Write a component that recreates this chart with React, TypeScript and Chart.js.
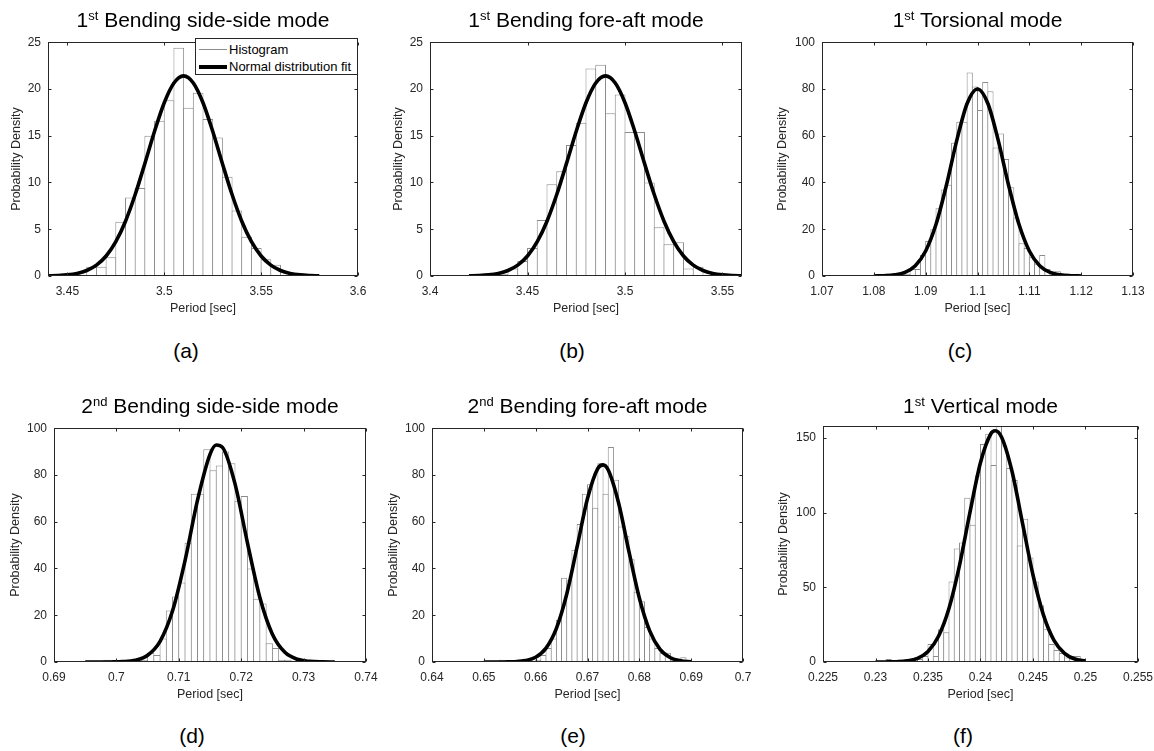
import React, { useEffect, useRef } from 'react';
import { Chart, registerables } from 'chart.js';

Chart.register(...registerables);

// ---------------- Data ----------------
const xAxisTitle = 'Period [sec]';
const yAxisTitle = 'Probability Density';
const legendLabels = ['Histogram', 'Normal distribution fit'];

const panelTitles: [string, string, string][] = [
  ['1', 'st', 'Bending side-side mode'],
  ['1', 'st', 'Bending fore-aft mode'],
  ['1', 'st', 'Torsional mode'],
  ['2', 'nd', 'Bending side-side mode'],
  ['2', 'nd', 'Bending fore-aft mode'],
  ['1', 'st', 'Vertical mode'],
];
const panelLabels = ['(a)', '(b)', '(c)', '(d)', '(e)', '(f)'];

// (a) 1st bending side-side
const histCentersA = [3.4625, 3.4675, 3.4725, 3.4775, 3.4825, 3.4875, 3.4925, 3.4975, 3.5025, 3.5075, 3.5125, 3.5175, 3.5225, 3.5275, 3.5325, 3.5375, 3.5425, 3.5475, 3.5525, 3.5575];
const histDensityA = [1.0, 1.0, 2.0, 5.8, 8.4, 9.4, 15.0, 16.6, 18.8, 24.4, 18.0, 19.6, 16.8, 14.8, 10.6, 7.0, 4.2, 3.0, 1.8, 1.2];
const fitPeriodA = [3.44, 3.445, 3.45, 3.455, 3.46, 3.465, 3.47, 3.475, 3.48, 3.485, 3.49, 3.495, 3.5, 3.505, 3.51, 3.515, 3.52, 3.525, 3.53, 3.535, 3.54, 3.545, 3.55, 3.555, 3.56, 3.565, 3.57, 3.575, 3.58];
const fitDensityA = [0.02, 0.05, 0.12, 0.28, 0.59, 1.16, 2.14, 3.67, 5.86, 8.71, 12.04, 15.48, 18.53, 20.64, 21.4, 20.64, 18.53, 15.48, 12.04, 8.71, 5.86, 3.67, 2.14, 1.16, 0.59, 0.28, 0.12, 0.05, 0.02];
const xTicksA = [3.45, 3.5, 3.55, 3.6];
const yTicksA = [0, 5, 10, 15, 20, 25];
const xLimA = [3.44, 3.6];
const yLimA = [0, 25];

// (b) 1st bending fore-aft
const histCentersB = [3.4375, 3.4425, 3.4475, 3.4525, 3.4575, 3.4625, 3.4675, 3.4725, 3.4775, 3.4825, 3.4875, 3.4925, 3.4975, 3.5025, 3.5075, 3.5125, 3.5175, 3.5225, 3.5275, 3.5325, 3.5375];
const histDensityB = [0.2, 0.8, 1.6, 3.0, 6.0, 9.8, 11.2, 14.0, 16.4, 22.2, 22.6, 17.4, 19.4, 15.4, 15.4, 10.0, 5.2, 3.4, 3.6, 0.8, 1.0];
const fitPeriodB = [3.42, 3.425, 3.43, 3.435, 3.44, 3.445, 3.45, 3.455, 3.46, 3.465, 3.47, 3.475, 3.48, 3.485, 3.49, 3.495, 3.5, 3.505, 3.51, 3.515, 3.52, 3.525, 3.53, 3.535, 3.54, 3.545, 3.55, 3.555, 3.56];
const fitDensityB = [0.02, 0.05, 0.12, 0.28, 0.59, 1.16, 2.14, 3.67, 5.86, 8.71, 12.04, 15.48, 18.53, 20.64, 21.4, 20.64, 18.53, 15.48, 12.04, 8.71, 5.86, 3.67, 2.14, 1.16, 0.59, 0.28, 0.12, 0.05, 0.02];
const xTicksB = [3.4, 3.45, 3.5, 3.55];
const yTicksB = [0, 5, 10, 15, 20, 25];
const xLimB = [3.4, 3.56];
const yLimB = [0, 25];

// (c) 1st torsional
const histCentersC = [1.0815, 1.0825, 1.0835, 1.0845, 1.0855, 1.0865, 1.0875, 1.0885, 1.0895, 1.0905, 1.0915, 1.0925, 1.0935, 1.0945, 1.0955, 1.0965, 1.0975, 1.0985, 1.0995, 1.1005, 1.1015, 1.1025, 1.1035, 1.1045, 1.1055, 1.1065, 1.1075, 1.1085, 1.1095, 1.1105, 1.1115, 1.1125, 1.1135, 1.1145, 1.1155, 1.1165, 1.1175, 1.1185, 1.1195];
const histDensityC = [1, 0, 0, 0, 1, 1, 3, 3, 9, 15, 20, 29, 37, 39, 57, 66, 66, 87, 81, 71, 83, 79, 55, 61, 50, 38, 25, 14, 12, 8, 5, 9, 3, 2, 2, 1, 0, 0, 1];
const fitPeriodC = [1.08, 1.082, 1.084, 1.086, 1.088, 1.09, 1.092, 1.094, 1.096, 1.098, 1.1, 1.102, 1.104, 1.106, 1.108, 1.11, 1.112, 1.114, 1.116, 1.118, 1.12];
const fitDensityC = [0.03, 0.12, 0.47, 1.56, 4.42, 10.7, 22.1, 38.8, 58.0, 73.8, 80.0, 73.8, 58.0, 38.8, 22.1, 10.7, 4.42, 1.56, 0.47, 0.12, 0.03];
const xTicksC = [1.07, 1.08, 1.09, 1.1, 1.11, 1.12, 1.13];
const yTicksC = [0, 20, 40, 60, 80, 100];
const xLimC = [1.07, 1.13];
const yLimC = [0, 100];

// (d) 2nd bending side-side
const histCentersD = [0.6985, 0.6995, 0.7005, 0.7015, 0.7025, 0.7035, 0.7045, 0.7055, 0.7065, 0.7075, 0.7085, 0.7095, 0.7105, 0.7115, 0.7125, 0.7135, 0.7145, 0.7155, 0.7165, 0.7175, 0.7185, 0.7195, 0.7205, 0.7215, 0.7225, 0.7235, 0.7245, 0.7255, 0.7265, 0.7275];
const histDensityD = [1, 0, 0, 0, 0, 0, 1, 4, 3, 10, 22, 28, 34, 51, 72, 72, 91, 82, 84, 90, 85, 69, 71, 40, 27, 25, 8, 6, 1, 1];
const fitPeriodD = [0.695, 0.697, 0.699, 0.701, 0.703, 0.705, 0.707, 0.709, 0.711, 0.713, 0.715, 0.716, 0.717, 0.719, 0.721, 0.723, 0.725, 0.727, 0.729, 0.731, 0.733, 0.735];
const fitDensityD = [0.0, 0.0, 0.03, 0.16, 0.76, 2.9, 8.87, 21.9, 43.4, 69.2, 88.8, 92.8, 91.8, 76.3, 51.0, 27.5, 11.9, 4.15, 1.16, 0.26, 0.05, 0.01];
const xTicksD = [0.69, 0.7, 0.71, 0.72, 0.73, 0.74];
const yTicksD = [0, 20, 40, 60, 80, 100];
const xLimD = [0.69, 0.74];
const yLimD = [0, 100];

// (e) 2nd bending fore-aft
const histCentersE = [0.6535, 0.6545, 0.6555, 0.6565, 0.6575, 0.6585, 0.6595, 0.6605, 0.6615, 0.6625, 0.6635, 0.6645, 0.6655, 0.6665, 0.6675, 0.6685, 0.6695, 0.6705, 0.6715, 0.6725, 0.6735, 0.6745, 0.6755, 0.6765, 0.6775, 0.6785, 0.6795, 0.6805, 0.6815, 0.6825, 0.6835, 0.6845, 0.6855, 0.6865, 0.6875, 0.6885];
const histDensityE = [1, 0, 0, 0, 0, 0, 0, 1, 3, 6, 10, 18, 36, 35, 48, 59, 72, 76, 66, 85, 72, 92, 78, 58, 54, 44, 30, 26, 15, 10, 6, 4, 4, 1, 0, 2];
const fitPeriodE = [0.65, 0.652, 0.654, 0.656, 0.658, 0.66, 0.662, 0.664, 0.666, 0.668, 0.67, 0.672, 0.673, 0.674, 0.676, 0.678, 0.68, 0.682, 0.684, 0.686, 0.688, 0.69];
const fitDensityE = [0.0, 0.0, 0.03, 0.14, 0.59, 2.05, 5.94, 14.4, 29.1, 49.3, 69.9, 82.8, 84.3, 82.1, 68.0, 47.2, 27.4, 13.3, 5.39, 1.83, 0.52, 0.12];
const xTicksE = [0.64, 0.65, 0.66, 0.67, 0.68, 0.69, 0.7];
const yTicksE = [0, 20, 40, 60, 80, 100];
const xLimE = [0.64, 0.7];
const yLimE = [0, 100];

// (f) 1st vertical
const histCentersF = [0.23025, 0.23075, 0.23125, 0.23175, 0.23225, 0.23275, 0.23325, 0.23375, 0.23425, 0.23475, 0.23525, 0.23575, 0.23625, 0.23675, 0.23725, 0.23775, 0.23825, 0.23875, 0.23925, 0.23975, 0.24025, 0.24075, 0.24125, 0.24175, 0.24225, 0.24275, 0.24325, 0.24375, 0.24425, 0.24475, 0.24525, 0.24575, 0.24625, 0.24675, 0.24725, 0.24775, 0.24825, 0.24875, 0.24925, 0.24975];
const histDensityF = [0, 0, 2, 0, 0, 0, 1, 1, 2, 4, 12, 4, 22, 20, 54, 76, 80, 110, 92, 125, 146, 153, 132, 158, 145, 130, 122, 78, 96, 70, 54, 38, 22, 12, 8, 6, 3, 4, 4, 1];
const fitPeriodF = [0.23, 0.231, 0.232, 0.233, 0.234, 0.235, 0.236, 0.237, 0.238, 0.239, 0.24, 0.241, 0.2414, 0.242, 0.243, 0.244, 0.245, 0.246, 0.247, 0.248, 0.249, 0.25];
const fitDensityF = [0.01, 0.04, 0.2, 0.75, 2.49, 7.05, 17.2, 36.0, 64.8, 100.4, 133.7, 153.1, 155.0, 150.8, 127.8, 93.1, 58.3, 31.4, 14.5, 5.8, 1.98, 0.58];
const xTicksF = [0.225, 0.23, 0.235, 0.24, 0.245, 0.25, 0.255];
const yTicksF = [0, 50, 100, 150];
const xLimF = [0.225, 0.255];
const yLimF = [0, 158];

// ---------------- Layout / style ----------------
const FONT = "'Liberation Sans', Arial, Helvetica, sans-serif";
const AXIS_COLOR = '#262626';
const BAR_EDGE = '#8c8c8c';
const TICK_FONT = 12;
const AXIS_TITLE_FONT = 12.5;
const TITLE_FONT = 21;
const PT = 10;
const PR = 24;
const XH = 44;

type Box = { left: number; top: number; right: number; bottom: number };
type PanelSpec = {
  centers: number[];
  density: number[];
  fitX: number[];
  fitY: number[];
  xLim: number[];
  yLim: number[];
  xTicks: number[];
  yTicks: number[];
  box: Box;
  yTitleOffset: number;
  titleBaseline: number;
  labelX: number;
  labelY: number;
};

const panels: PanelSpec[] = [
  { centers: histCentersA, density: histDensityA, fitX: fitPeriodA, fitY: fitDensityA, xLim: xLimA, yLim: yLimA, xTicks: xTicksA, yTicks: yTicksA,
    box: { left: 48, top: 38, right: 358, bottom: 276 }, yTitleOffset: 31, titleBaseline: 26.5, labelX: 186, labelY: 351 },
  { centers: histCentersB, density: histDensityB, fitX: fitPeriodB, fitY: fitDensityB, xLim: xLimB, yLim: yLimB, xTicks: xTicksB, yTicks: yTicksB,
    box: { left: 430, top: 38, right: 742, bottom: 276 }, yTitleOffset: 31, titleBaseline: 26.5, labelX: 572, labelY: 351 },
  { centers: histCentersC, density: histDensityC, fitX: fitPeriodC, fitY: fitDensityC, xLim: xLimC, yLim: yLimC, xTicks: xTicksC, yTicks: yTicksC,
    box: { left: 822, top: 38, right: 1133, bottom: 276 }, yTitleOffset: 39, titleBaseline: 26.5, labelX: 960, labelY: 351 },
  { centers: histCentersD, density: histDensityD, fitX: fitPeriodD, fitY: fitDensityD, xLim: xLimD, yLim: yLimD, xTicks: xTicksD, yTicks: yTicksD,
    box: { left: 54, top: 424, right: 366, bottom: 662 }, yTitleOffset: 38, titleBaseline: 413, labelX: 192, labelY: 736 },
  { centers: histCentersE, density: histDensityE, fitX: fitPeriodE, fitY: fitDensityE, xLim: xLimE, yLim: yLimE, xTicks: xTicksE, yTicks: yTicksE,
    box: { left: 432, top: 424, right: 743, bottom: 662 }, yTitleOffset: 38, titleBaseline: 413, labelX: 573, labelY: 736 },
  { centers: histCentersF, density: histDensityF, fitX: fitPeriodF, fitY: fitDensityF, xLim: xLimF, yLim: yLimF, xTicks: xTicksF, yTicks: yTicksF,
    box: { left: 823, top: 422, right: 1138, bottom: 662 }, yTitleOffset: 39, titleBaseline: 413, labelX: 963, labelY: 736 },
];

const fmt = (v: number) => String(Math.round(v * 1e6) / 1e6);

const boxPlugin = {
  id: 'matlabBox',
  afterDraw(chart: any) {
    const { ctx, chartArea } = chart;
    const xs = chart.scales.x;
    const ys = chart.scales.y;
    const L = Math.round(chartArea.left) + 0.5;
    const R = Math.round(chartArea.right) - 0.5;
    const T = Math.round(chartArea.top) + 0.5;
    const B = Math.round(chartArea.bottom) - 0.5;
    const tl = 3;
    ctx.save();
    ctx.strokeStyle = AXIS_COLOR;
    ctx.lineWidth = 1;
    ctx.strokeRect(L, T, R - L, B - T);
    ctx.beginPath();
    xs.ticks.forEach((t: any) => {
      const px = Math.round(xs.getPixelForValue(t.value)) + 0.5;
      ctx.moveTo(px, B);
      ctx.lineTo(px, B - tl);
      ctx.moveTo(px, T);
      ctx.lineTo(px, T + tl);
    });
    ys.ticks.forEach((t: any) => {
      const py = Math.round(ys.getPixelForValue(t.value)) + 0.5;
      ctx.moveTo(L, py);
      ctx.lineTo(L + tl, py);
      ctx.moveTo(R, py);
      ctx.lineTo(R - tl, py);
    });
    ctx.stroke();
    ctx.restore();
  },
};

function HistPanel({ spec }: { spec: PanelSpec }) {
  const ref = useRef<HTMLCanvasElement>(null);
  const yw = Math.round(spec.yTitleOffset + (AXIS_TITLE_FONT * 1.2) / 2 + 4);
  const plotW = spec.box.right - spec.box.left;
  const plotH = spec.box.bottom - spec.box.top;
  const cw = Math.round(plotW + yw + PR);
  const ch = Math.round(plotH + PT + XH);
  const left = Math.round(spec.box.left - yw);
  const top = Math.round(spec.box.top - PT);

  useEffect(() => {
    const canvas = ref.current;
    if (!canvas) return;
    const binW = spec.centers[1] - spec.centers[0];
    const gapPx = (binW / (spec.xLim[1] - spec.xLim[0])) * plotW;
    const barPct = (gapPx + 1) / gapPx;
    const chart = new Chart(canvas, {
      type: 'bar',
      data: {
        datasets: [
          {
            type: 'line',
            label: legendLabels[1],
            data: spec.fitX.map((x, i) => ({ x, y: spec.fitY[i] })),
            borderColor: '#000000',
            borderWidth: 3.6,
            pointRadius: 0,
            fill: false,
            cubicInterpolationMode: 'monotone',
            order: 0,
          } as any,
          {
            type: 'bar',
            label: legendLabels[0],
            data: spec.centers.map((x, i) => ({ x, y: spec.density[i] })),
            backgroundColor: '#ffffff',
            borderColor: BAR_EDGE,
            borderWidth: 1,
            borderSkipped: 'start',
            inflateAmount: 0,
            barPercentage: barPct,
            categoryPercentage: 1,
            order: 1,
          } as any,
        ],
      },
      options: {
        animation: false,
        responsive: false,
        maintainAspectRatio: false,
        events: [],
        layout: { padding: { left: 0, top: PT, right: PR, bottom: 0 } },
        plugins: {
          legend: { display: false },
          tooltip: { enabled: false },
          title: { display: false },
        },
        scales: {
          x: {
            type: 'linear',
            min: spec.xLim[0],
            max: spec.xLim[1],
            bounds: 'data',
            offset: false,
            grid: { display: false, drawTicks: false },
            border: { display: false },
            ticks: {
              padding: 8,
              color: AXIS_COLOR,
              font: { family: FONT, size: TICK_FONT },
              maxRotation: 0,
              autoSkip: false,
              callback: (v: any) => fmt(Number(v)),
            },
            afterBuildTicks: (s: any) => {
              s.ticks = spec.xTicks.map((v) => ({ value: v }));
            },
            afterFit: (s: any) => {
              s.height = XH;
            },
            title: {
              display: true,
              text: xAxisTitle,
              color: AXIS_COLOR,
              font: { family: FONT, size: AXIS_TITLE_FONT },
              padding: { top: 0, bottom: 4 },
            },
          },
          y: {
            type: 'linear',
            min: spec.yLim[0],
            max: spec.yLim[1],
            bounds: 'data',
            grid: { display: false, drawTicks: false },
            border: { display: false },
            ticks: {
              padding: 7,
              color: AXIS_COLOR,
              font: { family: FONT, size: TICK_FONT },
              autoSkip: false,
              callback: (v: any) => fmt(Number(v)),
            },
            afterBuildTicks: (s: any) => {
              s.ticks = spec.yTicks.map((v) => ({ value: v }));
            },
            afterFit: (s: any) => {
              s.width = yw;
            },
            title: {
              display: true,
              text: yAxisTitle,
              color: AXIS_COLOR,
              font: { family: FONT, size: AXIS_TITLE_FONT },
              padding: { top: 4, bottom: 0 },
            },
          },
        },
      } as any,
      plugins: [boxPlugin],
    });
    return () => chart.destroy();
  }, []);

  return (
    <canvas
      ref={ref}
      width={cw}
      height={ch}
      style={{ position: 'absolute', left, top, width: cw, height: ch }}
    />
  );
}

function PanelTitle({ spec, title }: { spec: PanelSpec; title: [string, string, string] }) {
  const cx = (spec.box.left + spec.box.right) / 2;
  return (
    <div
      style={{
        position: 'absolute',
        left: cx - 200,
        width: 400,
        top: spec.titleBaseline - 17.8,
        textAlign: 'center',
        fontFamily: FONT,
        fontSize: TITLE_FONT,
        lineHeight: `${TITLE_FONT}px`,
        color: '#000',
        whiteSpace: 'nowrap',
      }}
    >
      {title[0]}
      <sup style={{ fontSize: '0.62em', verticalAlign: '0.55em', lineHeight: 0 }}>{title[1]}</sup> {title[2]}
    </div>
  );
}

function Legend({ box }: { box: Box }) {
  const w = 163;
  const h = 37;
  return (
    <div
      style={{
        position: 'absolute',
        left: box.right - w,
        top: box.top,
        width: w,
        height: h,
        boxSizing: 'border-box',
        border: `1px solid ${AXIS_COLOR}`,
        background: '#fff',
        fontFamily: FONT,
        fontSize: 13,
        color: '#000',
      }}
    >
      <div style={{ position: 'absolute', left: 3, top: 10, width: 28, height: 0, borderTop: `1px solid ${BAR_EDGE}` }} />
      <div style={{ position: 'absolute', left: 33, top: 2, lineHeight: '17px', whiteSpace: 'nowrap' }}>{legendLabels[0]}</div>
      <div style={{ position: 'absolute', left: 3, top: 26, width: 28, height: 4, background: '#000' }} />
      <div style={{ position: 'absolute', left: 33, top: 19, lineHeight: '17px', whiteSpace: 'nowrap' }}>{legendLabels[1]}</div>
    </div>
  );
}

export default function App() {
  return (
    <div
      style={{
        position: 'absolute',
        left: 0,
        top: 0,
        width: 1154,
        height: 751,
        overflow: 'hidden',
        background: '#fff',
      }}
    >
      {panels.map((p, i) => (
        <React.Fragment key={i}>
          <HistPanel spec={p} />
          <PanelTitle spec={p} title={panelTitles[i]} />
          <div
            style={{
              position: 'absolute',
              left: p.labelX - 40,
              width: 80,
              top: p.labelY - 12,
              height: 24,
              lineHeight: '24px',
              textAlign: 'center',
              fontFamily: FONT,
              fontSize: 21,
              color: '#000',
            }}
          >
            {panelLabels[i]}
          </div>
        </React.Fragment>
      ))}
      <Legend box={panels[0].box} />
    </div>
  );
}
